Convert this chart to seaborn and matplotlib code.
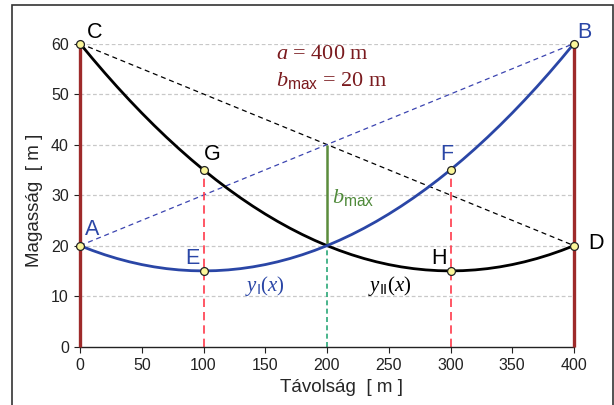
import matplotlib
matplotlib.use("Agg")
import matplotlib.pyplot as plt
import matplotlib.patches as mpatches
import seaborn as sns

# curve values (every 10 m)
dist = list(range(0, 401, 10))
y_one = [20.0, 19.05, 18.2, 17.45, 16.8, 16.25, 15.8, 15.45, 15.2, 15.05, 15.0,
         15.05, 15.2, 15.45, 15.8, 16.25, 16.8, 17.45, 18.2, 19.05, 20.0,
         21.05, 22.2, 23.45, 24.8, 26.25, 27.8, 29.45, 31.2, 33.05, 35.0,
         37.05, 39.2, 41.45, 43.8, 46.25, 48.8, 51.45, 54.2, 57.05, 60.0]
y_two = y_one[::-1]

# named points
pt_names = ["A", "B", "C", "D", "E", "F", "G", "H"]
pt_x = [0, 400, 0, 400, 100, 300, 100, 300]
pt_y = [20, 60, 60, 20, 15, 35, 35, 15]

blue = "#2a46a6"
maroon = "#9e2a2a"
textred = "#7a1a1e"

sns.set_style("ticks")
plt.rcParams["font.family"] = ["Liberation Sans", "DejaVu Sans"]
plt.rcParams["mathtext.fontset"] = "custom"
plt.rcParams["mathtext.rm"] = "Liberation Serif"
plt.rcParams["mathtext.it"] = "Liberation Serif:italic"
plt.rcParams["mathtext.sf"] = "Liberation Sans"

fig = plt.figure(figsize=(6.14, 4.05), dpi=100)
ax = fig.add_axes([80 / 614, 1 - 346.7 / 405, 494 / 614, 303.2 / 405])

# frame around the figure
fig.patches.append(mpatches.Rectangle((12 / 614, -0.1), 600.5 / 614, 1.1 - 5 / 405,
                                      transform=fig.transFigure, fill=False,
                                      edgecolor="#333333", linewidth=1.2))

for yv in [10, 20, 30, 40, 50, 60]:
    ax.axhline(yv, color="#c8c8c8", linewidth=0.9, linestyle=(0, (3, 2)), zorder=0)

# chords
ax.plot([pt_x[2], pt_x[3]], [pt_y[2], pt_y[3]], color="black", lw=0.9,
        linestyle=(0, (4, 3)), zorder=2)
ax.plot([pt_x[0], pt_x[1]], [pt_y[0], pt_y[1]], color="#3b44b0", lw=0.9,
        linestyle=(0, (4, 3)), zorder=2)

# verticals
ax.vlines([0, 400], 0, 60, color=maroon, lw=2.4, zorder=3)
ax.vlines([100, 300], 0, 35, color="#ff3a4a", lw=1.2, linestyles=(0, (5, 3)), zorder=2)
ax.vlines([200], 0, 20, color="#2aa878", lw=1.2, linestyles=(0, (3, 2)), zorder=2)
ax.vlines([200], 20, 40, color="#5b8c3c", lw=1.8, zorder=2)

sns.lineplot(x=dist, y=y_two, color="black", linewidth=2.0, ax=ax, zorder=4)
sns.lineplot(x=dist, y=y_one, color=blue, linewidth=2.0, ax=ax, zorder=4)

sc = sns.scatterplot(x=pt_x, y=pt_y, color="#fbf79a", edgecolor="#222222",
                     linewidth=0.9, s=32, ax=ax, zorder=6)
for c in sc.collections:
    c.set_clip_on(False)

lab_col = {"A": blue, "B": blue, "E": blue, "F": blue,
           "C": "black", "D": "black", "G": "black", "H": "black"}
lab_pos = {"A": (10, 23.2), "B": (408.5, 62.2), "C": (12, 62.2), "D": (417.5, 20.5),
           "E": (91, 17.5), "F": (297, 38), "G": (107, 38), "H": (291, 17.5)}
for n in pt_names:
    lx, ly = lab_pos[n]
    ax.text(lx, ly, n, color=lab_col[n], fontsize=15.5, ha="center", va="center",
            clip_on=False)

ax.text(159, 57.8, r"$a$ = 400 m", color=textred, fontsize=16,
        family="Liberation Serif", ha="left", va="center")
ax.text(159, 52.6, r"$b_{\mathsf{max}}$ = 20 m", color=textred, fontsize=16,
        family="Liberation Serif", ha="left", va="center")
ax.text(204, 29.5, r"$b_{\mathsf{max}}$", color="#4f8a3a", fontsize=16,
        ha="left", va="center")
ax.text(150, 12.0, r"$y_{\mathsf{I}}(x)$", color=blue, fontsize=15,
        ha="center", va="center")
ax.text(251, 12.0, r"$y_{\mathsf{II}}(x)$", color="black", fontsize=15,
        ha="center", va="center")

ax.set_xlim(0, 400)
ax.set_ylim(0, 60)
ax.set_xticks(range(0, 401, 50))
ax.set_yticks(range(0, 61, 10))
ax.tick_params(labelsize=11.5, length=4, width=0.8, colors="#222222", pad=4)
ax.set_xlabel("Távolság  [ m ]", fontsize=13.5)
ax.xaxis.set_label_coords(0.53, -0.105)
ax.set_ylabel("Magasság  [ m ]", fontsize=13.5)
ax.yaxis.set_label_coords(-0.075, 0.484)
sns.despine(ax=ax)
for s in ["left", "bottom"]:
    ax.spines[s].set_linewidth(1.0)
    ax.spines[s].set_color("#222222")

fig.savefig("out.png", dpi=100)
